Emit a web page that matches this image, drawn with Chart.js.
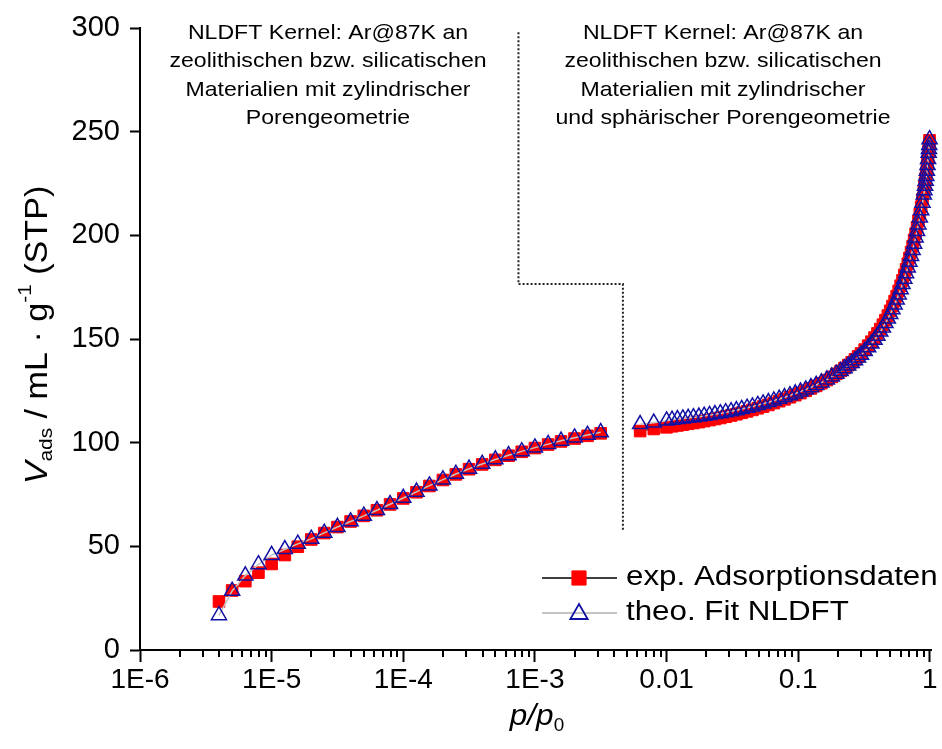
<!DOCTYPE html>
<html><head><meta charset="utf-8">
<script src="https://cdn.jsdelivr.net/npm/chart.js@4/dist/chart.umd.min.js"></script>
<style>html,body{margin:0;padding:0;background:#fff;overflow:hidden}</style>
</head><body>
<canvas id="c" width="942" height="749"></canvas>
<script>
// ---------- data ----------
const lowP = [3.98e-6, 5.01e-6, 6.31e-6, 7.94e-6, 1.00e-5, 1.26e-5, 1.58e-5, 2.00e-5, 2.51e-5, 3.16e-5,
  3.98e-5, 5.01e-5, 6.31e-5, 7.94e-5, 1.00e-4, 1.26e-4, 1.58e-4, 2.00e-4, 2.51e-4, 3.16e-4,
  3.98e-4, 5.01e-4, 6.31e-4, 7.94e-4, 1.00e-3, 1.26e-3, 1.58e-3, 2.00e-3, 2.51e-3, 3.16e-3];
const lowExp = [23.4, 28.7, 33.2, 37.3, 41.5, 45.8, 49.8, 53.3, 56.4, 59.3,
  62.0, 64.7, 67.4, 70.2, 73.1, 76.1, 79.1, 82.0, 84.7, 87.2,
  89.5, 91.7, 93.7, 95.6, 97.4, 99.1, 100.6, 102.0, 103.3, 104.5];
const lowFit = [16.7, 28.5, 35.9, 41.3, 45.8, 48.6, 51.2, 53.6, 56.5, 59.3,
  62.0, 64.7, 67.4, 70.3, 73.3, 76.3, 79.3, 82.2, 84.9, 87.4,
  89.7, 91.9, 93.9, 95.8, 97.6, 99.3, 100.9, 102.4, 103.7, 105.0];

const highP = [0.0063, 0.0080, 0.0100, 0.0110, 0.0121, 0.0133, 0.0146, 0.0160, 0.0176, 0.0193,
  0.0212, 0.0233, 0.0256, 0.0281, 0.0309, 0.0339, 0.0372, 0.0409, 0.0449, 0.0493,
  0.0541, 0.0594, 0.0653, 0.0717, 0.0787, 0.0865, 0.095, 0.104, 0.114, 0.125,
  0.137, 0.150, 0.165, 0.180, 0.195, 0.210, 0.225, 0.240, 0.255, 0.270,
  0.285, 0.300, 0.32, 0.34, 0.36, 0.38, 0.40, 0.42, 0.44, 0.46,
  0.48, 0.50, 0.52, 0.54, 0.56, 0.58, 0.60, 0.62, 0.64, 0.66,
  0.68, 0.70, 0.72, 0.74, 0.76, 0.78, 0.80, 0.82, 0.84, 0.86,
  0.88, 0.90, 0.91, 0.92, 0.93, 0.94, 0.95, 0.96, 0.97, 0.98,
  0.985, 0.99, 0.995];
const highExp = [105.6, 106.6, 107.4, 107.9, 108.3, 108.7, 109.1, 109.5, 109.9, 110.4,
  110.9, 111.4, 111.9, 112.5, 113.1, 113.7, 114.4, 115.1, 115.8, 116.6,
  117.4, 118.2, 119.1, 120.0, 120.9, 121.9, 122.9, 123.9, 125.0, 126.2,
  127.4, 128.7, 130.2, 131.7, 133.2, 134.6, 136.0, 137.4, 138.8, 140.2,
  141.6, 143.0, 144.9, 146.8, 148.7, 150.7, 152.7, 154.8, 156.9, 159.1,
  161.3, 163.6, 165.9, 168.3, 170.7, 173.2, 175.7, 178.3, 180.9, 183.6,
  186.3, 189.1, 191.9, 194.8, 197.8, 200.8, 203.9, 207.1, 210.4, 213.8,
  217.4, 221.2, 223.2, 225.3, 227.5, 229.8, 232.2, 234.8, 237.6, 240.6,
  242.3, 244.0, 245.8];
const highFit = [108.9, 109.6, 110.6, 111.0, 111.3, 111.6, 111.9, 112.2, 112.5, 112.9,
  113.3, 113.7, 114.1, 114.6, 115.1, 115.6, 116.2, 116.8, 117.4, 118.1,
  118.8, 119.5, 120.3, 121.1, 121.9, 122.8, 123.7, 124.6, 125.6, 126.7,
  127.8, 129.0, 130.4, 131.8, 133.2, 134.5, 135.8, 137.1, 138.4, 139.7,
  141.0, 142.3, 144.1, 145.9, 147.7, 149.6, 151.5, 153.5, 155.5, 157.6,
  159.8, 162.0, 164.3, 166.6, 169.0, 171.4, 173.9, 176.4, 179.0, 181.7,
  184.4, 187.2, 190.0, 192.9, 195.9, 198.9, 202.0, 205.2, 208.5, 212.0,
  215.7, 219.6, 221.7, 223.9, 226.2, 228.6, 231.1, 233.8, 236.7, 239.8,
  241.6, 243.5, 246.3];

const gapP = 5e-3;
const xMin = 1e-6, xMax = 1.035;
const xMajorTicks = [1e-6, 1e-5, 1e-4, 1e-3, 0.01, 0.1, 1];
const xTickLabels = ['1E-6', '1E-5', '1E-4', '1E-3', '0.01', '0.1', '1'];
const yTickValues = [0, 50, 100, 150, 200, 250, 300];
const seriesNames = ['exp. Adsorptionsdaten', 'theo. Fit NLDFT'];
const noteLeft = ['NLDFT Kernel: Ar@87K an', 'zeolithischen bzw. silicatischen', 'Materialien mit zylindrischer', 'Porengeometrie'];
const noteRight = ['NLDFT Kernel: Ar@87K an', 'zeolithischen bzw. silicatischen', 'Materialien mit zylindrischer', 'und sphärischer Porengeometrie'];
// boundary between the two kernel regions (data coordinates: p/p0, V)
const dividerX = [7.5e-4, 7.5e-4, 4.66e-3, 4.66e-3];
const dividerY = [298, 176.5, 176.5, 57];

// ---------- build ----------
function series(lo, hi) {
  return lowP.map((p, i) => ({x: p, y: lo[i]}))
    .concat([{x: gapP, y: null}])
    .concat(highP.map((p, i) => ({x: p, y: hi[i]})));
}
const RED = '#ff0000', BLUE = '#1010a4';
const FONT = "'Liberation Sans', Arial, sans-serif";

function drawRich(ctx, parts, x, y, sx) {
  let total = 0;
  parts.forEach(p => { ctx.font = (p.style || '') + ' ' + p.size + 'px ' + FONT; p.w = ctx.measureText(p.t).width; total += p.w; });
  ctx.save();
  ctx.translate(x, y);
  ctx.scale(sx || 1, 1);
  let cx = -total / 2;
  ctx.textBaseline = 'middle';
  ctx.textAlign = 'left';
  parts.forEach(p => { ctx.font = (p.style || '') + ' ' + p.size + 'px ' + FONT; ctx.fillText(p.t, cx, p.dy || 0); cx += p.w; });
  ctx.restore();
}

const decor = {
  id: 'decor',
  beforeDraw(chart) {
    const c = chart.ctx; c.save(); c.fillStyle = '#fff'; c.fillRect(0, 0, chart.width, chart.height); c.restore();
  },
  afterDraw(chart) {
    const ctx = chart.ctx, xs = chart.scales.x, ys = chart.scales.y;
    const bottom = chart.chartArea.bottom;
    ctx.save();
    // minor ticks on log axis
    ctx.strokeStyle = '#000'; ctx.lineWidth = 2;
    for (let e = -6; e < 0; e++) {
      for (let k = 2; k <= 9; k++) {
        const px = Math.round(xs.getPixelForValue(k * Math.pow(10, e)));
        ctx.beginPath(); ctx.moveTo(px, bottom); ctx.lineTo(px, bottom + 7); ctx.stroke();
      }
    }
    // dotted divider
    ctx.setLineDash([2, 2]); ctx.lineWidth = 2; ctx.strokeStyle = '#222';
    ctx.beginPath();
    dividerX.forEach((v, i) => {
      const px = xs.getPixelForValue(v), py = ys.getPixelForValue(dividerY[i]);
      if (i === 0) ctx.moveTo(px, py); else ctx.lineTo(px, py);
    });
    ctx.stroke();
    ctx.setLineDash([]);
    // notes
    ctx.fillStyle = '#000';
    noteLeft.forEach((t, i) => drawRich(ctx, [{t, size: 21}], 328, 33 + i * 28.5, 1.1));
    noteRight.forEach((t, i) => drawRich(ctx, [{t, size: 21}], 723, 33 + i * 28.5, 1.1));
    // legend
    const lx1 = 542, lx2 = 617, mx = 579, tx = 626;
    const rows = [578, 613];
    ctx.lineWidth = 1.5; ctx.strokeStyle = '#000';
    ctx.beginPath(); ctx.moveTo(lx1, rows[0]); ctx.lineTo(lx2, rows[0]); ctx.stroke();
    ctx.lineWidth = 2; ctx.strokeStyle = '#c4c4c4';
    ctx.beginPath(); ctx.moveTo(lx1, rows[1]); ctx.lineTo(lx2, rows[1]); ctx.stroke();
    ctx.fillStyle = RED; ctx.strokeStyle = RED; ctx.lineWidth = 1;
    Chart.helpers.drawPoint(ctx, {pointStyle: 'rect', radius: 10, rotation: 0, borderWidth: 1}, mx, rows[0]);
    ctx.fillStyle = 'rgba(0,0,0,0)'; ctx.strokeStyle = BLUE; ctx.lineWidth = 1.8;
    Chart.helpers.drawPoint(ctx, {pointStyle: 'triangle', radius: 10, rotation: 0, borderWidth: 1.8}, mx, rows[1] + 1);
    ctx.fillStyle = '#000';
    seriesNames.forEach((t, i) => {
      ctx.save();
      ctx.font = '27px ' + FONT; ctx.textBaseline = 'middle'; ctx.textAlign = 'left';
      ctx.translate(tx, rows[i]); ctx.scale(1.16, 1); ctx.fillText(t, 0, 0);
      ctx.restore();
    });
    // axis titles
    ctx.save();
    ctx.translate(38, 335); ctx.rotate(-Math.PI / 2);
    drawRich(ctx, [
      {t: 'V', size: 31, style: 'italic'},
      {t: 'ads', size: 19, dy: 9},
      {t: ' / mL · g', size: 31},
      {t: '-1', size: 19, dy: -12},
      {t: ' (STP)', size: 31}
    ], 0, 0, 1.1);
    ctx.restore();
    drawRich(ctx, [
      {t: 'p', size: 30, style: 'italic'},
      {t: '/', size: 30, style: 'italic'},
      {t: 'p', size: 30, style: 'italic'},
      {t: '0', size: 18, dy: 9}
    ], 537, 717, 1.05);
    ctx.restore();
  }
};

new Chart(document.getElementById('c'), {
  type: 'scatter',
  data: {
    datasets: [
      {
        label: seriesNames[0], data: series(lowExp, highExp), showLine: true, order: 2,
        borderColor: '#000', borderWidth: 1, spanGaps: false, clip: false,
        pointStyle: 'rect', pointRadius: 8.2, pointBackgroundColor: RED, pointBorderColor: RED, pointBorderWidth: 1
      },
      {
        label: seriesNames[1], data: series(lowFit, highFit), showLine: true, order: 1,
        borderColor: '#c4c4c4', borderWidth: 1.5, spanGaps: false, clip: false,
        pointStyle: 'triangle', pointRadius: 8.7, pointBackgroundColor: 'rgba(0,0,0,0)', pointBorderColor: BLUE, pointBorderWidth: 1.5
      }
    ]
  },
  options: {
    responsive: false, animation: false, devicePixelRatio: 1,
    layout: {padding: {left: 0, top: 28, right: 1, bottom: 0}},
    plugins: {legend: {display: false}, tooltip: {enabled: false}},
    scales: {
      x: {
        type: 'logarithmic', min: xMin, max: xMax, bounds: 'data', position: 'bottom',
        afterBuildTicks: s => { s.ticks = xMajorTicks.map(v => ({value: v, major: true})); },
        afterFit: s => { s.height = 99; s.paddingLeft = 0; s.paddingRight = 0; },
        ticks: {autoSkip: false, maxRotation: 0, color: '#000', padding: 1,
          font: {family: FONT, size: 28},
          callback: (v, i) => xTickLabels[i]},
        grid: {display: true, drawOnChartArea: false, drawTicks: true, tickLength: 12, tickColor: '#000', tickWidth: 2},
        border: {display: true, color: '#000', width: 2}
      },
      y: {
        min: 0, max: 300,
        afterBuildTicks: s => { s.ticks = yTickValues.map(v => ({value: v})); },
        afterFit: s => { s.width = 140; s.paddingTop = 0; s.paddingBottom = 0; },
        ticks: {color: '#000', padding: 10, font: {family: FONT, size: 29}},
        grid: {display: true, drawOnChartArea: false, drawTicks: true, tickLength: 10, tickColor: '#000', tickWidth: 2},
        border: {display: true, color: '#000', width: 2}
      }
    }
  },
  plugins: [decor]
});
</script>
</body></html>
